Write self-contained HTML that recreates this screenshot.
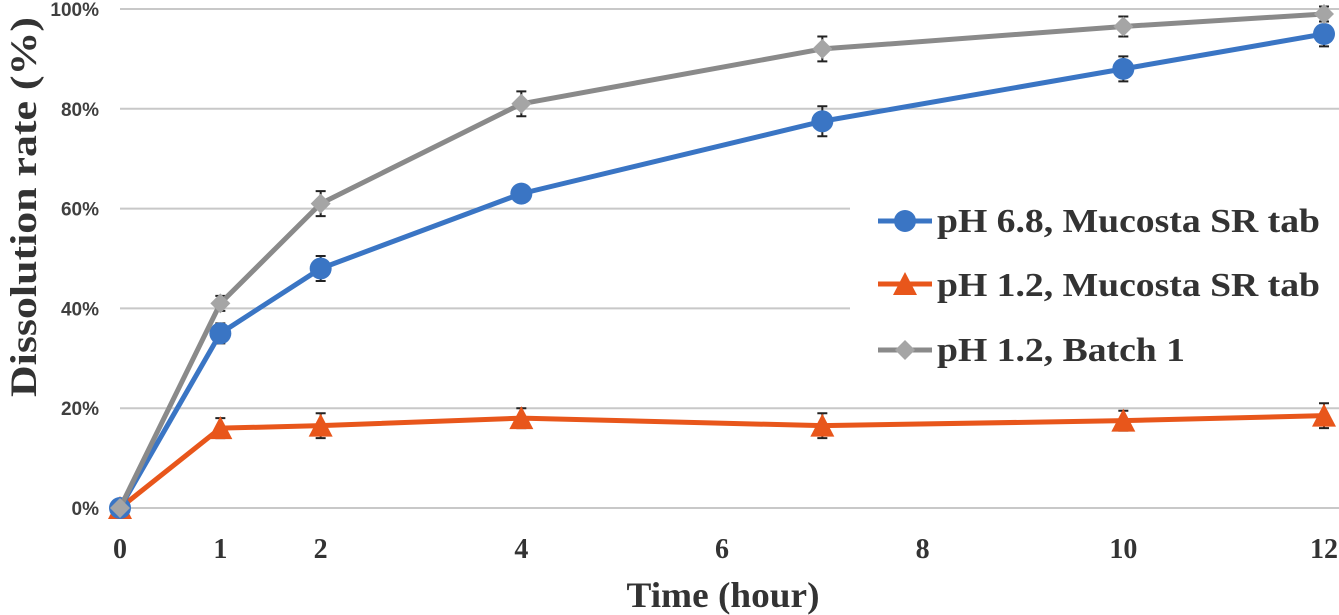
<!DOCTYPE html>
<html><head><meta charset="utf-8"><style>
html,body{margin:0;padding:0;background:#fff;}
svg{display:block;}
</style></head><body>
<svg id="chart" width="1339" height="615" viewBox="0 0 1339 615" xmlns="http://www.w3.org/2000/svg">
<g id="grid"></g>
<g id="yticks" font-family="Liberation Sans, sans-serif" font-weight="bold" font-size="19" fill="#404040" text-anchor="end"></g>
<g id="xticks" font-family="Liberation Serif, serif" font-weight="bold" font-size="28" fill="#333" text-anchor="middle"></g>
<g id="series"></g>
<text x="723" y="607" font-family="Liberation Serif, serif" font-weight="bold" font-size="36" fill="#333" text-anchor="middle" textLength="193" lengthAdjust="spacingAndGlyphs">Time (hour)</text>
<text transform="translate(36,207) rotate(-90)" font-family="Liberation Serif, serif" font-weight="bold" font-size="37" fill="#333" text-anchor="middle" textLength="380" lengthAdjust="spacingAndGlyphs">Dissolution rate (%)</text>
<g font-family="Liberation Serif, serif" font-weight="bold" font-size="34" fill="#333">
 <rect x="850" y="185" width="489" height="205" fill="#fff"/>
 <g>
  <line x1="878" y1="221" x2="932" y2="221" stroke="#3a75c4" stroke-width="5"/>
  <circle cx="905" cy="221" r="11" fill="#3a75c4"/>
  <text x="937" y="232" textLength="383" lengthAdjust="spacingAndGlyphs">pH 6.8, Mucosta SR tab</text>
 </g>
 <g>
  <line x1="878" y1="284" x2="932" y2="284" stroke="#e8561b" stroke-width="5"/>
  <polygon points="905,272 917,295 893,295" fill="#e8561b"/>
  <text x="937" y="296" textLength="383" lengthAdjust="spacingAndGlyphs">pH 1.2, Mucosta SR tab</text>
 </g>
 <g>
  <line x1="878" y1="350" x2="932" y2="350" stroke="#8a8a8a" stroke-width="5"/>
  <polygon points="905,340 915,350 905,360 895,350" fill="#a5a5a5"/>
  <text x="937" y="361" textLength="248" lengthAdjust="spacingAndGlyphs">pH 1.2, Batch 1</text>
 </g>
</g>
</svg>
<script>
const hours = [0, 1, 2, 4, 7, 10, 12];
const ph68 = [0, 35, 48, 63, 77.5, 88, 95];
const ph12 = [0, 16, 16.5, 18, 16.5, 17.5, 18.5];
const batch1 = [0, 41, 61, 81, 92, 96.5, 99];
const errPh68 = [0, 2, 2.5, 1.5, 3, 2.5, 2.5];
const errPh12 = [0, 2, 2.5, 2, 2.5, 2, 2.5];
const errBatch1 = [0, 1.5, 2.5, 2.5, 2.5, 2, 1.5];
const yTicks = [0, 20, 40, 60, 80, 100];
const xTicks = [0, 1, 2, 4, 6, 8, 10, 12];

const NS = 'http://www.w3.org/2000/svg';
const X0 = 120, X1 = 1324, Y0 = 508, Y1 = 9;
const xs = v => X0 + (v / 12) * (X1 - X0);
const ys = v => Y0 - (v / 100) * (Y0 - Y1);
function mk(tag, attrs, parent) { const e = document.createElementNS(NS, tag); for (const k in attrs) e.setAttribute(k, attrs[k]); parent.appendChild(e); return e; }

const grid = document.getElementById('grid');
const yt = document.getElementById('yticks');
yTicks.forEach(v => {
  const l = mk('line', {x1: X0, x2: 1339, y1: ys(v), y2: ys(v), stroke: '#c8c8c8', 'stroke-width': 2}, grid);
  
  
  const t = mk('text', {x: 99, y: ys(v) + 7}, yt);
  t.textContent = v + '%';
  
  
});
const xt = document.getElementById('xticks');
xTicks.forEach(v => {
  const t = mk('text', {x: xs(v), y: 558}, xt);
  t.textContent = v;
  
  
});

const sg = document.getElementById('series');
function drawSeries(name, vals, errs, color, marker, mcolor) {
  const g = mk('g', {}, sg);
  
  
  vals.forEach((v, i) => {
    if (errs[i] > 0) {
      const e = mk('path', {d: `M${xs(hours[i])},${ys(v + errs[i])}V${ys(v - errs[i])}M${xs(hours[i]) - 5},${ys(v + errs[i])}h10M${xs(hours[i]) - 5},${ys(v - errs[i])}h10`, stroke: '#222', 'stroke-width': 2, fill: 'none'}, g);
      
      
    }
  });
  const p = mk('polyline', {points: vals.map((v, i) => xs(hours[i]) + ',' + ys(v)).join(' '), fill: 'none', stroke: color, 'stroke-width': 5, 'stroke-linejoin': 'round'}, g);
  
  
  vals.forEach((v, i) => {
    const cx = xs(hours[i]), cy = ys(v);
    let m;
    if (marker === 'circle') m = mk('circle', {cx, cy, r: 11, fill: mcolor}, g);
    else if (marker === 'tri') m = mk('polygon', {points: `${cx},${cy - 12} ${cx + 12},${cy + 11} ${cx - 12},${cy + 11}`, fill: mcolor}, g);
    else m = mk('polygon', {points: `${cx},${cy - 10} ${cx + 10},${cy} ${cx},${cy + 10} ${cx - 10},${cy}`, fill: mcolor}, g);
    
    
  });
}
drawSeries('ph12', ph12, errPh12, '#e8561b', 'tri', '#e8561b');
drawSeries('ph68', ph68, errPh68, '#3a75c4', 'circle', '#3a75c4');
drawSeries('batch1', batch1, errBatch1, '#8a8a8a', 'diamond', '#a5a5a5');
</script>
</body></html>
